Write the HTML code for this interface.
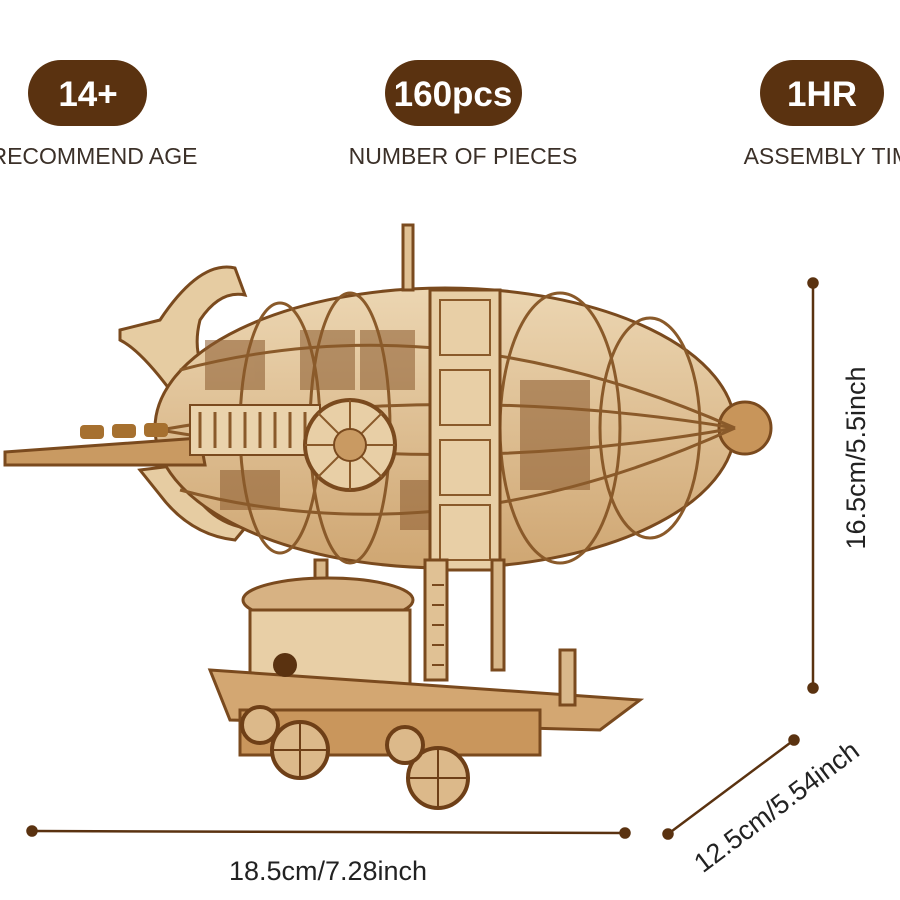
<!DOCTYPE html>
<html><head><meta charset="utf-8"><style>
html,body{margin:0;padding:0;background:#fff;}
body{width:900px;height:900px;overflow:hidden;position:relative;font-family:"Liberation Sans",sans-serif;}
</style></head><body>
<svg width="900" height="900" viewBox="0 0 900 900" xmlns="http://www.w3.org/2000/svg" style="position:absolute;left:0;top:0">
<defs>
<linearGradient id="w" x1="0" y1="0" x2="0" y2="1"><stop offset="0" stop-color="#ecd6b2"/><stop offset="1" stop-color="#cfa672"/></linearGradient>
</defs>
<!-- pills -->
<rect x="28" y="60" width="119" height="66" rx="33" fill="#5a3210"/>
<rect x="385" y="60" width="137" height="66" rx="33" fill="#5a3210"/>
<rect x="760" y="60" width="124" height="66" rx="33" fill="#5a3210"/>
<g font-family="Liberation Sans, sans-serif" font-weight="bold" font-size="35" fill="#fff" text-anchor="middle">
<text x="88" y="106">14+</text><text x="453" y="106">160pcs</text><text x="822" y="106">1HR</text>
</g>
<g font-family="Liberation Sans, sans-serif" font-size="23" fill="#3b3028" text-anchor="middle">
<text x="94" y="164">RECOMMEND AGE</text><text x="463" y="164">NUMBER OF PIECES</text><text x="835" y="164">ASSEMBLY TIME</text>
</g>
<!-- airship body -->
<g stroke="#7a4a1e" stroke-width="3">
<path d="M120 330 L160 320 Q200 260 235 268 L245 295 Q220 290 200 320 Q190 360 215 385 L170 390 Q140 350 120 340 Z" fill="#e6cca2"/>
<path d="M140 470 L180 465 Q200 520 245 528 L235 540 Q190 535 160 495 Z" fill="#e6cca2"/>
<ellipse cx="445" cy="428" rx="290" ry="140" fill="url(#w)"/>
<path d="M5 452 L200 438 L205 465 L5 465 Z" fill="#c99a62"/>
<circle cx="745" cy="428" r="26" fill="#c8955a"/>
<rect x="403" y="225" width="10" height="65" fill="#e0c194"/>
</g>
<g fill="#8a5a2e" opacity="0.55">
<rect x="205" y="340" width="60" height="50"/><rect x="300" y="330" width="55" height="60"/>
<rect x="360" y="330" width="55" height="60"/><rect x="520" y="380" width="70" height="110"/>
<rect x="220" y="470" width="60" height="40"/><rect x="400" y="480" width="40" height="50"/>
</g>
<g stroke="#8a5a2a" stroke-width="3" fill="none">
<path d="M160 430 Q445 380 735 428"/><path d="M160 430 Q445 480 735 428"/>
<path d="M180 370 Q445 300 735 428"/><path d="M180 490 Q445 560 735 428"/>
<ellipse cx="280" cy="428" rx="40" ry="125"/><ellipse cx="350" cy="428" rx="40" ry="135"/>
<ellipse cx="560" cy="428" rx="60" ry="135"/><ellipse cx="650" cy="428" rx="50" ry="110"/>
</g>
<rect x="430" y="290" width="70" height="280" fill="#e8cfa6" stroke="#7a4a1e" stroke-width="3"/>
<g fill="none" stroke="#8a5a2a" stroke-width="2"><rect x="440" y="300" width="50" height="55"/><rect x="440" y="370" width="50" height="55"/><rect x="440" y="440" width="50" height="55"/><rect x="440" y="505" width="50" height="55"/></g>
<rect x="190" y="405" width="130" height="50" fill="#ead3ac" stroke="#7a4a1e" stroke-width="2"/>
<path d="M200 412 v36 M215 412 v36 M230 412 v36 M245 412 v36 M260 412 v36 M275 412 v36 M290 412 v36 M305 412 v36" stroke="#8a5a2a" stroke-width="3"/>
<circle cx="350" cy="445" r="45" fill="#e8cfa6" stroke="#7a4a1e" stroke-width="4"/>
<path d="M350 400 V490 M305 445 H395 M318 413 L382 477 M382 413 L318 477" stroke="#8a5a2a" stroke-width="2"/>
<circle cx="350" cy="445" r="16" fill="#c99a62" stroke="#7a4a1e" stroke-width="2"/>
<g fill="#a6702f"><rect x="80" y="425" width="24" height="14" rx="4"/><rect x="112" y="424" width="24" height="14" rx="4"/><rect x="144" y="423" width="24" height="14" rx="4"/></g>
<!-- gondola -->
<g stroke="#7a4a1e" stroke-width="3">
<rect x="315" y="560" width="12" height="80" fill="#d9b88a"/>
<rect x="425" y="560" width="22" height="120" fill="#e0c194"/>
<rect x="492" y="560" width="12" height="110" fill="#d9b88a"/>
<ellipse cx="328" cy="600" rx="85" ry="22" fill="#d7b283"/>
<rect x="250" y="610" width="160" height="110" fill="#e8cfa6"/>
<path d="M210 670 L640 700 L600 730 L230 720 Z" fill="#d3a772"/>
<rect x="240" y="710" width="300" height="45" fill="#c9965c"/>
<rect x="560" y="650" width="15" height="55" fill="#d9b88a"/>
</g>
<circle cx="285" cy="665" r="12" fill="#5a3210"/>
<path d="M432 585 h12 M432 605 h12 M432 625 h12 M432 645 h12 M432 665 h12" stroke="#7a4a1e" stroke-width="2"/>
<g fill="#dcb98a" stroke="#6e3f17" stroke-width="4">
<circle cx="300" cy="750" r="28"/><circle cx="438" cy="778" r="30"/>
<circle cx="260" cy="725" r="18"/><circle cx="405" cy="745" r="18"/>
</g>
<g stroke="#6e3f17" stroke-width="2"><path d="M300 724 V776 M274 750 H326 M438 750 V806 M410 778 H466"/></g>
<!-- dimension lines -->
<g stroke="#5a3210" stroke-width="2.5" fill="#5a3210">
<line x1="813" y1="283" x2="813" y2="688"/><circle cx="813" cy="283" r="4.5"/><circle cx="813" cy="688" r="4.5"/>
<line x1="32" y1="831" x2="625" y2="833"/><circle cx="32" cy="831" r="4.5"/><circle cx="625" cy="833" r="4.5"/>
<line x1="668" y1="834" x2="794" y2="740"/><circle cx="668" cy="834" r="4.5"/><circle cx="794" cy="740" r="4.5"/>
</g>
<g font-family="Liberation Sans, sans-serif" font-size="27" fill="#222" text-anchor="middle">
<text x="328" y="880">18.5cm/7.28inch</text>
<text transform="translate(865,458) rotate(-90)">16.5cm/5.5inch</text>
<text transform="translate(782,814) rotate(-37)">12.5cm/5.54inch</text>
</g>
</svg>
</body></html>
